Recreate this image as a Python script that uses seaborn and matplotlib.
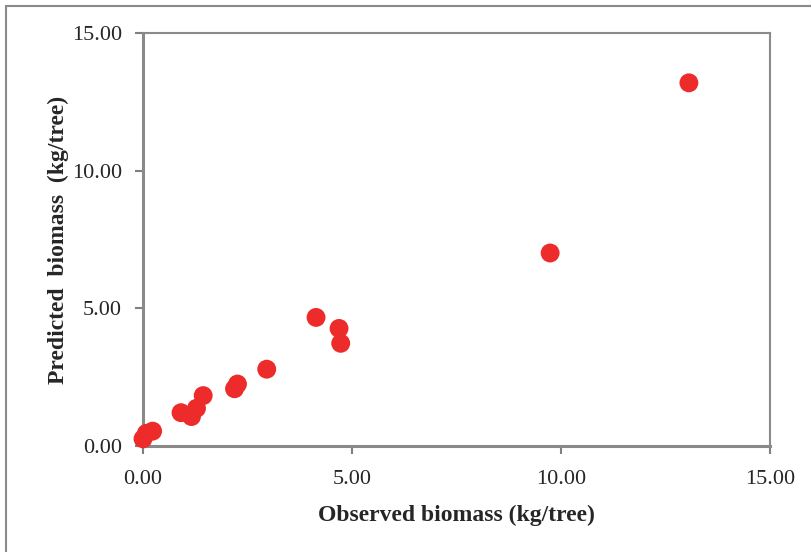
import matplotlib
matplotlib.use("Agg")
import matplotlib.pyplot as plt
import seaborn as sns
import pandas as pd
from matplotlib.lines import Line2D

observed = [13.06, 9.74, 4.14, 4.69, 4.73, 2.96, 2.26, 2.19, 1.44, 1.28, 1.16, 0.91, 0.23, 0.08, 0.0]
predicted = [13.19, 7.01, 4.67, 4.27, 3.73, 2.79, 2.25, 2.08, 1.83, 1.37, 1.07, 1.21, 0.54, 0.46, 0.26]
ticks = [0, 5, 10, 15]
tick_labels = ["0.00", "5.00", "10.00", "15.00"]

df = pd.DataFrame({"obs": observed, "pred": predicted})

sns.set_style("white")
plt.rcParams["font.family"] = ["Liberation Serif", "DejaVu Serif"]

fig = plt.figure(figsize=(8.11, 5.52), dpi=100)
ax = fig.add_axes([143/811, 106/552, 627/811, 413/552])
sns.scatterplot(data=df, x="obs", y="pred", ax=ax, color="#EE2B2B", s=185,
                edgecolor="none", zorder=3, clip_on=False)
ax.set_xlim(0, 15)
ax.set_ylim(0, 15)
ax.set_xticks(ticks)
ax.set_yticks(ticks)
ax.set_xticklabels(tick_labels, fontsize=16)
ax.set_yticklabels(tick_labels, fontsize=16)
ax.tick_params(axis="both", direction="out", length=6, width=1.5, color="#808080",
               left=True, bottom=True)
ax.tick_params(axis="x", pad=11)
ax.tick_params(axis="y", pad=9)
for s in ax.spines.values():
    s.set_visible(True)
    s.set_color("#8a8a8a")
    s.set_linewidth(1.5)
ax.spines["left"].set_linewidth(2.2)
ax.spines["bottom"].set_linewidth(2.2)
ax.set_xlabel("Observed biomass (kg/tree)", fontsize=17, fontweight="bold", labelpad=12)
ax.set_ylabel("Predicted  biomass  (kg/tree)", fontsize=17, fontweight="bold", labelpad=2)

fig.add_artist(Line2D([6/811, 6/811], [0, 1 - 6/552], transform=fig.transFigure,
                      color="#8a8a8a", lw=1.5))
fig.add_artist(Line2D([6/811, 1], [1 - 6/552, 1 - 6/552], transform=fig.transFigure,
                      color="#8a8a8a", lw=1.5))

fig.savefig("out.png", dpi=100)
